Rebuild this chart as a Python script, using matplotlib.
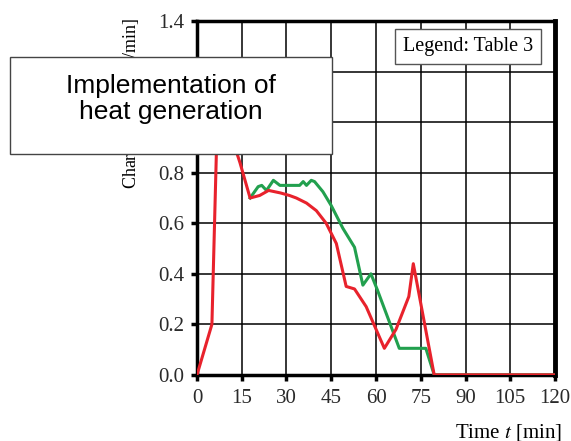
import matplotlib
matplotlib.use("Agg")
import matplotlib.pyplot as plt
from matplotlib.patches import Rectangle

# heat generation curves, time in minutes
red_t = [0, 5, 6.5, 8, 10, 12, 13.3, 14.4, 17.8, 21, 24, 28, 31, 33.3, 36.7,
         40, 43.3, 46.7, 50, 52.8, 56.7, 62.8, 66.7, 71, 72.5, 79.5, 120]
red_v = [0, 0.2, 0.88, 1.02, 1.05, 0.95, 0.88, 0.84, 0.70, 0.71, 0.73, 0.72,
         0.71, 0.70, 0.68, 0.65, 0.60, 0.52, 0.35, 0.34, 0.27, 0.105, 0.18,
         0.31, 0.44, 0.0, 0.0]

green_t = [17.8, 20.5, 21.7, 23.3, 25.6, 27.8, 34.4, 35.6, 36.7, 38.3, 39.4,
           42.2, 45, 48.9, 52.8, 55.6, 58.3, 60.5, 67.8, 76.7, 79.5, 120]
green_v = [0.70, 0.745, 0.75, 0.73, 0.77, 0.75, 0.75, 0.765, 0.75, 0.77, 0.765,
           0.725, 0.67, 0.58, 0.505, 0.355, 0.40, 0.335, 0.105, 0.105, 0.0, 0.0]

x_ticks = [0, 15, 30, 45, 60, 75, 90, 105, 120]
y_ticks = [0.0, 0.2, 0.4, 0.6, 0.8, 1.0, 1.2, 1.4]

plt.rcParams['font.family'] = 'Liberation Serif'
plt.rcParams['mathtext.fontset'] = 'stix'

fig = plt.figure(figsize=(5.71, 4.41), dpi=100)
ax = fig.add_axes([0.345, 0.150, 0.627, 0.802])

ax.plot(green_t, green_v, color='#22a04e', lw=2.2, zorder=3)
ax.plot(red_t, red_v, color='#e8222c', lw=2.2, zorder=4)

ax.set_xlim(0, 120)
ax.set_ylim(0, 1.4)
ax.set_xticks(x_ticks)
ax.set_yticks(y_ticks)
ax.set_yticklabels([f"{v:.1f}" for v in y_ticks])
ax.grid(True, color='black', lw=1.1)
ax.set_axisbelow(True)
for side in ['left', 'bottom', 'top']:
    ax.spines[side].set_linewidth(2.5)
ax.spines['right'].set_linewidth(3.5)
ax.tick_params(direction='out', length=4, width=2.5, labelsize=15,
               colors='black', labelcolor='#2a2a2a')
ax.tick_params(axis='x', pad=6)
ax.tick_params(axis='y', pad=5)

ax.set_xlabel("Time $t$ [min]", fontsize=15, loc='right')
ax.xaxis.set_label_coords(1.02, -0.132)
ax.set_ylabel("Charging rate $q$ [1/min]", fontsize=13, va='center')
ax.yaxis.set_label_coords(-0.182, 0.766)

ax.text(0.757, 0.929, "Legend: Table 3", transform=ax.transAxes,
        fontsize=14.5, ha='center', va='center', zorder=6,
        bbox=dict(boxstyle='square,pad=0.4', fc='white', ec='#555555', lw=1))

# white caption box across the upper left
fig.patches.append(Rectangle((10 / 571, 1 - 154 / 441), 322 / 571, 97 / 441,
                             transform=fig.transFigure, fc='white',
                             ec='#444444', lw=1, zorder=10))
fig.text(171 / 571, 1 - 99 / 441, "Implementation of\nheat generation",
         family='Liberation Sans', fontsize=19, ha='center', va='center',
         linespacing=1.1, zorder=11)

fig.savefig("out.png", dpi=100)
